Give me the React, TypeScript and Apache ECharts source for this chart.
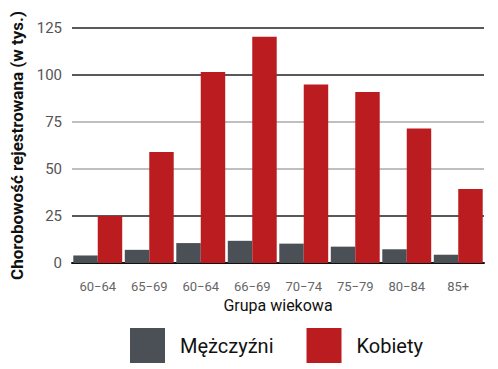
import React, { useEffect, useRef } from "react";
import * as echarts from "echarts";

const categories = ["60\u221264", "65\u221269", "60\u221264", "66\u221269", "70\u221274", "75\u221279", "80\u221284", "85+"];
const men = [4, 7, 10.6, 11.8, 10.3, 8.7, 7.3, 4.4];
const women = [25, 59, 101.6, 120.3, 95, 91, 71.5, 39.4];
const yTicks = [0, 25, 50, 75, 100, 125];

export default function App() {
  const ref = useRef<HTMLDivElement>(null);
  useEffect(() => {
    const chart = echarts.init(ref.current!, null, { renderer: "svg" });
    const font = "Roboto, 'Noto Sans', sans-serif";
    chart.setOption({
      animation: false,
      textStyle: { fontFamily: font },
      grid: { left: 72, right: 14, top: 28, bottom: 106 },
      legend: {
        left: 125,
        top: 323,
        itemWidth: 35,
        itemHeight: 35,
        itemGap: 33,
        icon: "rect",
        textStyle: { fontSize: 20, color: "#111", fontFamily: font, padding: [0, 0, 0, 10] },
        data: ["Mężczyźni", "Kobiety"],
      },
      xAxis: {
        type: "category",
        data: categories,
        name: "Grupa wiekowa",
        nameLocation: "middle",
        nameGap: 33,
        nameTextStyle: { fontSize: 16, color: "#111", fontFamily: font },
        axisLine: { lineStyle: { color: "#111", width: 2 } },
        axisTick: { show: false },
        axisLabel: { fontSize: 13, color: "#666", margin: 17, fontFamily: font },
      },
      yAxis: {
        type: "value",
        min: yTicks[0],
        max: yTicks[yTicks.length - 1],
        interval: 25,
        name: "Chorobowość rejestrowana (w tys.)",
        nameLocation: "middle",
        nameGap: 46,
        nameTextStyle: { fontSize: 17, fontWeight: "bold", color: "#111", fontFamily: font },
        axisLine: { show: false },
        axisTick: { show: false },
        axisLabel: { fontSize: 15, color: "#555", margin: 10, fontFamily: font },
        splitLine: {
          lineStyle: { color: ["#222", "#222", "#aaa", "#aaa", "#222", "#222"], width: 1.5 },
        },
      },
      series: [
        {
          name: "Mężczyźni",
          type: "bar",
          data: men,
          itemStyle: { color: "#4a5055" },
          barGap: "0%",
          barCategoryGap: "5%",
        },
        {
          name: "Kobiety",
          type: "bar",
          data: women,
          itemStyle: { color: "#bb1c20" },
          barGap: "0%",
          barCategoryGap: "5%",
        },
      ],
    });
    return () => chart.dispose();
  }, []);
  return <div ref={ref} style={{ width: 498, height: 369, position: "absolute", left: 0, top: 0 }} />;
}
